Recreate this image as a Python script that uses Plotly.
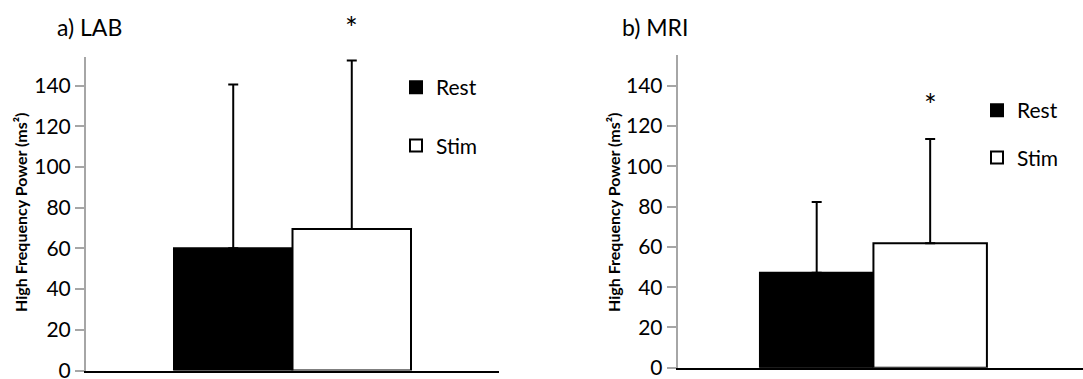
import plotly.graph_objects as go

# ---- data ----
conditions = ["Rest", "Stim"]
lab_means = [60.1, 69.5]
lab_sd = [80.4, 82.8]
mri_means = [47.2, 61.8]
mri_sd = [35.1, 51.8]
panel_titles = ["a) LAB", "b) MRI"]
y_title = "High Frequency Power (ms²)"
tick_vals = [0, 20, 40, 60, 80, 100, 120, 140]
sig_mark = "*"
mri_star_y = 131

FONT = "Lato"
fill_colors = {"Rest": "black", "Stim": "white"}
BARGAP = 0.426

fig = go.Figure()

def add_panel(means, sds, xa, ya, legend, group_prefix):
    for i, cond in enumerate(conditions):
        fig.add_trace(go.Bar(
            x=[""], y=[means[i]], name=cond,
            marker=dict(color=fill_colors[cond], line=dict(color="black", width=2)),
            error_y=dict(type="data", symmetric=False, array=[sds[i]], arrayminus=[0],
                         color="black", thickness=2, width=5),
            xaxis=xa, yaxis=ya, legend=legend,
            legendgroup=group_prefix + cond,
        ))

add_panel(lab_means, lab_sd, "x", "y", "legend", "lab")
add_panel(mri_means, mri_sd, "x2", "y2", "legend2", "mri")

W, H = 1083, 379
common_y = dict(
    showline=True, linecolor="#a6a6a6", linewidth=2,
    ticks="outside", tickcolor="#a6a6a6", ticklen=9, tickwidth=2,
    tickvals=tick_vals, showgrid=False, zeroline=False,
    ticklabeloverflow="allow", automargin=False,
    tickfont=dict(family=FONT, size=21, color="black"),
)
common_x = dict(
    showline=True, linecolor="black", linewidth=2, showticklabels=False,
    ticks="", showgrid=False, zeroline=False, type="category", automargin=False,
)

fig.update_layout(
    width=W, height=H,
    margin=dict(l=0, r=0, t=0, b=0, autoexpand=False),
    paper_bgcolor="white", plot_bgcolor="white",
    barmode="group", bargap=BARGAP, bargroupgap=0,
    xaxis=dict(domain=[86 / W, 499 / W], range=[-0.5, 0.5], anchor="y", **common_x),
    yaxis=dict(domain=[(H - 370.5) / H, (H - 57) / H], range=[0, 154], anchor="x", **common_y),
    xaxis2=dict(domain=[677.7 / W, 1.0], range=[-0.495, 0.530], anchor="y2", **common_x),
    yaxis2=dict(domain=[(H - 367.7) / H, (H - 55) / H], range=[0, 155.3], anchor="x2", **common_y),
    legend=dict(x=396 / W, y=1 - 67 / H, xanchor="left", yanchor="top",
                font=dict(family=FONT, size=21, color="black"),
                traceorder="grouped", tracegroupgap=28, itemwidth=30,
                bgcolor="rgba(0,0,0,0)"),
    legend2=dict(x=977 / W, y=1 - 90 / H, xanchor="left", yanchor="top",
                 font=dict(family=FONT, size=21, color="black"),
                 traceorder="grouped", tracegroupgap=17, itemwidth=30,
                 bgcolor="rgba(0,0,0,0)"),
    font=dict(family=FONT, color="black"),
)

title_font = dict(family=FONT, size=16, color="black", weight="bold")
fig.add_annotation(text=y_title, xref="paper", yref="paper", x=20 / W, y=1 - 212 / H,
                   textangle=-90, xanchor="center", yanchor="middle", showarrow=False,
                   font=title_font)
fig.add_annotation(text=y_title, xref="paper", yref="paper", x=613 / W, y=1 - 212 / H,
                   textangle=-90, xanchor="center", yanchor="middle", showarrow=False,
                   font=title_font)

stim_offset = (1 - BARGAP) / 4
fig.add_annotation(text=panel_titles[0], xref="paper", yref="paper", x=55 / W, y=1 - 27 / H,
                   xanchor="left", yanchor="middle", showarrow=False,
                   font=dict(family=FONT, size=23, color="black"))
fig.add_annotation(text=panel_titles[1], xref="paper", yref="paper", x=620 / W, y=1 - 27 / H,
                   xanchor="left", yanchor="middle", showarrow=False,
                   font=dict(family=FONT, size=23, color="black"))
star_font = dict(family=FONT, size=30, color="black")
fig.add_annotation(text=sig_mark, xref="x", yref="paper", x=stim_offset, y=1 - 27 / H,
                   xanchor="center", yanchor="middle", showarrow=False, font=star_font)
fig.add_annotation(text=sig_mark, xref="x2", yref="y2", x=stim_offset, y=mri_star_y,
                   xanchor="center", yanchor="middle", showarrow=False, font=star_font)

fig.write_html("out.html")
